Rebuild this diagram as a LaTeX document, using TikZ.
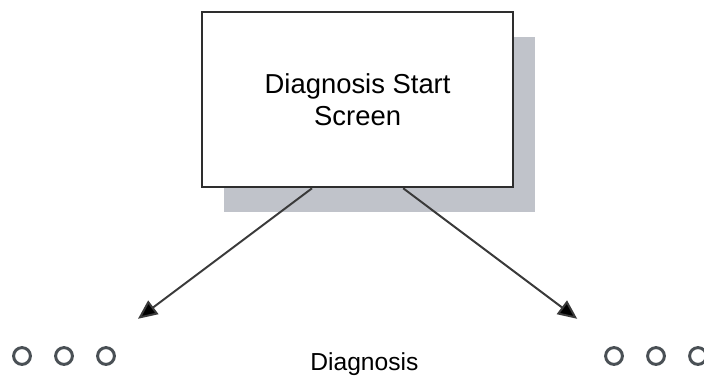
\documentclass[tikz,border=0pt]{standalone}
\usepackage{fontspec}
\setmainfont{Liberation Sans}
\usetikzlibrary{arrows.meta, positioning, calc, shadows}
\definecolor{BoxLine}{HTML}{2E2E2E}
\definecolor{ShadowGray}{HTML}{C0C3CA}
\definecolor{ArrowGray}{HTML}{3A3A3A}
\definecolor{DotGray}{HTML}{4A5055}
\tikzset{
    % Screen box with offset shadow
    screen/.style={
        rectangle,
        draw=BoxLine,
        fill=white,
        line width=1.7pt,
        minimum width=7.775cm,
        minimum height=4.375cm,
        align=center,
        font=\fontsize{19.5}{22.5}\selectfont,
        drop shadow={shadow xshift=0.55cm, shadow yshift=-0.63cm, fill=ShadowGray, opacity=1}
    },
    % Continuation dots
    dot/.style={
        circle,
        draw=DotGray,
        line width=2.1pt,
        minimum size=0.42cm,
        inner sep=0pt
    },
    % Arrow styles
    arrow/.style={
        -{Triangle[length=0.48cm, width=0.42cm, fill=black]},
        line width=1.4pt,
        draw=ArrowGray
    },
    label/.style={
        font=\fontsize{17.5}{20}\selectfont,
        anchor=base
    }
}
\begin{document}
\begin{tikzpicture}
    \clip (0,0) rectangle (17.6,9.4);
    \useasboundingbox (0,0) rectangle (17.6,9.4);

    % Start screen
    \node[screen] (start) at (8.94,6.91) {Diagnosis Start\\Screen};

    % Arrow ends
    \coordinate (left) at (3.45,1.43);
    \coordinate (right) at (14.43,1.43);
    \draw[arrow] ([xshift=-1.14cm]start.south) -- (left);
    \draw[arrow] ([xshift=1.14cm]start.south) -- (right);

    % Dots on both sides
    \foreach \i in {1,2,3} {
        \node[dot] (ldot\i) at ({0.55+(\i-1)*1.05},0.5) {};
        \node[dot] (rdot\i) at ({15.35+(\i-1)*1.05},0.5) {};
    }

    \node[label] (diag) at (9.11,0.14) {Diagnosis};
\end{tikzpicture}
\end{document}
